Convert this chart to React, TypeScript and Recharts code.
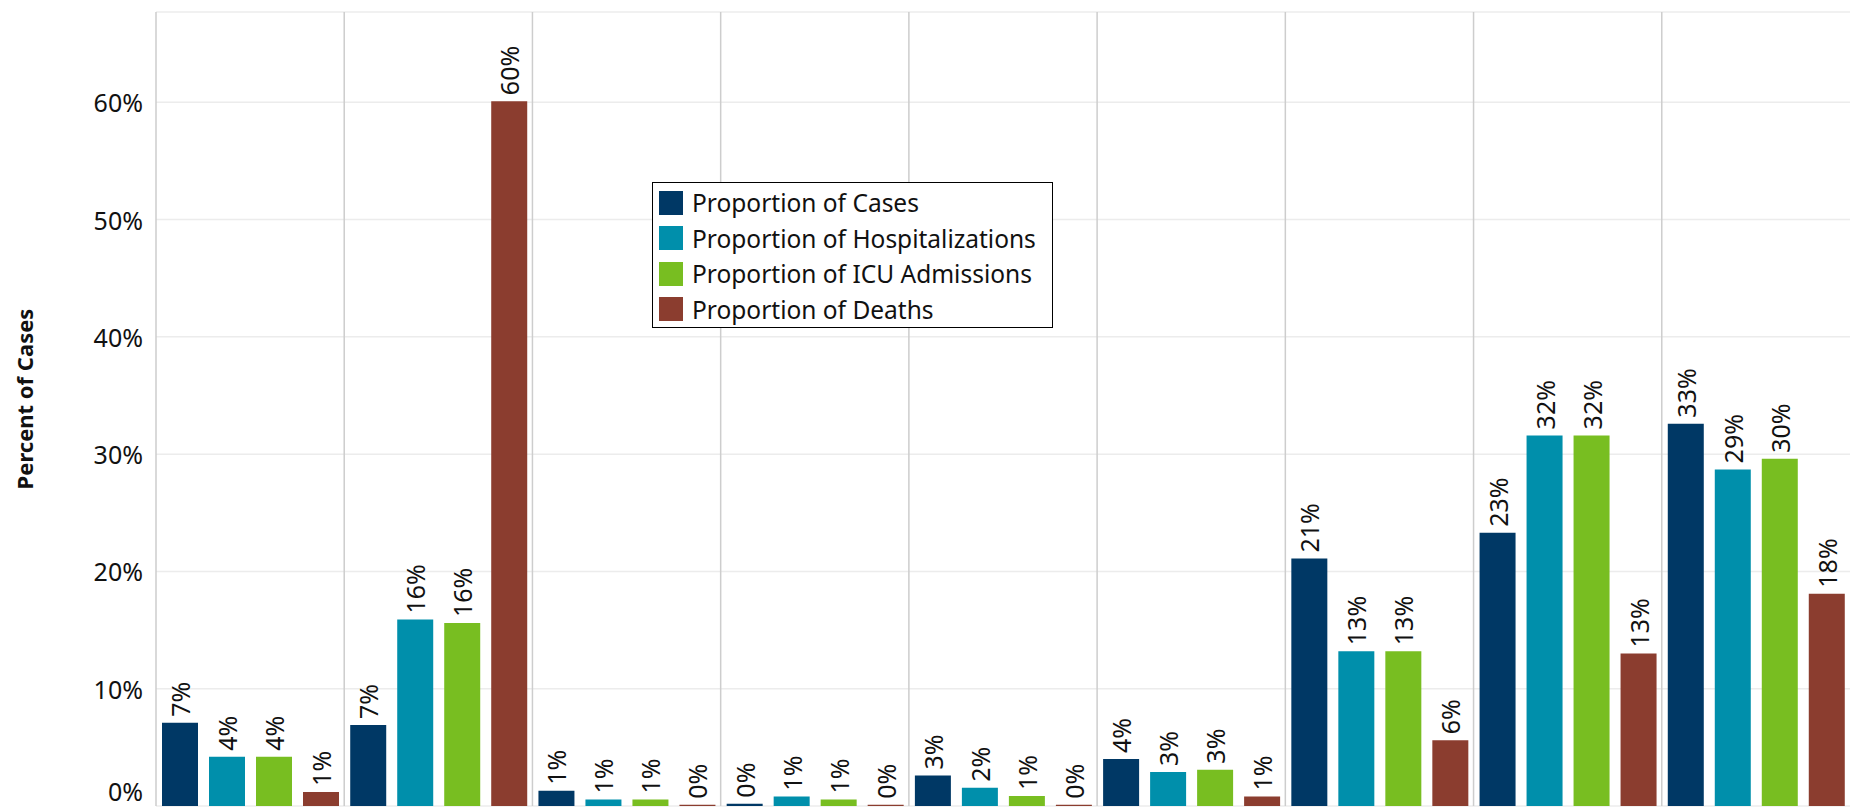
import { Bar, BarChart, CartesianGrid, LabelList, XAxis, YAxis } from "recharts";

const groups = ["Group 1", "Group 2", "Group 3", "Group 4", "Group 5", "Group 6", "Group 7", "Group 8", "Group 9"];
const cases = [7.1, 6.9, 1.3, 0.2, 2.6, 4.0, 21.1, 23.3, 32.6];
const hospitalizations = [4.2, 15.9, 0.55, 0.8, 1.55, 2.9, 13.2, 31.6, 28.7];
const icuAdmissions = [4.2, 15.6, 0.55, 0.55, 0.85, 3.1, 13.2, 31.6, 29.6];
const deaths = [1.2, 60.1, 0.1, 0.1, 0.1, 0.8, 5.6, 13.0, 18.1];
const yTicks = [0, 10, 20, 30, 40, 50, 60];

const SERIES = [
  { key: "cases", name: "Proportion of Cases", color: "#003865" },
  { key: "hosp", name: "Proportion of Hospitalizations", color: "#008FAB" },
  { key: "icu", name: "Proportion of ICU Admissions", color: "#78BE21" },
  { key: "deaths", name: "Proportion of Deaths", color: "#8B3D2F" },
];

const rows = groups.map((g, i) => ({
  group: g,
  cases: cases[i],
  hosp: hospitalizations[i],
  icu: icuAdmissions[i],
  deaths: deaths[i],
}));

const FONT = "'Noto Sans', 'Open Sans', sans-serif";

function BarLabel(props: any) {
  const { x, y, width, value } = props;
  const cx = x + width / 2;
  const ty = y - 6;
  return (
    <text
      x={cx}
      y={ty}
      transform={`rotate(-90 ${cx} ${ty})`}
      textAnchor="start"
      dominantBaseline="central"
      fontSize={25}
      fontFamily={FONT}
      fill="#111"
    >
      {Math.round(value)}%
    </text>
  );
}

function YTick(props: any) {
  const { x, y, payload } = props;
  // the 0% label sits a bit higher so it isn't cut at the bottom edge
  const dy = payload.value === 0 ? -15 : 0;
  return (
    <text
      x={x}
      y={y + dy}
      textAnchor="end"
      dominantBaseline="central"
      fontSize={25}
      fontFamily={FONT}
      fill="#111"
    >
      {payload.value}%
    </text>
  );
}

function AxisTitle(props: any) {
  const { viewBox } = props;
  const cy = viewBox.y + viewBox.height / 2 - 10;
  return (
    <text
      x={24}
      y={cy}
      transform={`rotate(-90 24 ${cy})`}
      textAnchor="middle"
      dominantBaseline="central"
      fontSize={22}
      fontWeight="bold"
      fontFamily={FONT}
      fill="#111"
    >
      Percent of Cases
    </text>
  );
}

function LegendBox() {
  return (
    <div
      style={{
        position: "absolute",
        left: 652,
        top: 182,
        border: "1.5px solid #000",
        background: "#fff",
        width: 401,
        height: 146,
        padding: "2px 0 2px 6px",
        boxSizing: "border-box",
        fontFamily: FONT,
        fontSize: 24.5,
        color: "#111",
        whiteSpace: "nowrap",
      }}
    >
      {SERIES.map((s) => (
        <div key={s.key} style={{ display: "flex", alignItems: "center", height: 35.5 }}>
          <span style={{ width: 24, height: 24, background: s.color, marginRight: 9, flex: "none" }} />
          <span>{s.name}</span>
        </div>
      ))}
    </div>
  );
}

export default function App() {
  return (
    <div style={{ position: "absolute", left: 0, top: 0, background: "#fff" }}>
      <BarChart
        width={1850}
        height={807}
        data={rows}
        margin={{ top: 12, right: 0, bottom: 1, left: 0 }}
        barCategoryGap={6}
        barGap={11}
      >
        <CartesianGrid stroke="#ececec" strokeWidth={1.5} vertical={false} />
        <CartesianGrid
          stroke="#cdcdcd"
          strokeWidth={1.5}
          horizontal={false}
          verticalCoordinatesGenerator={({ offset }: any) =>
            groups.map((_, i) => offset.left + (i * offset.width) / groups.length)
          }
        />
        <XAxis dataKey="group" height={0} tick={false} axisLine={false} tickLine={false} />
        <YAxis
          width={156}
          domain={[0, 67.7]}
          ticks={yTicks}
          interval={0}
          axisLine={false}
          tickLine={false}
          tickSize={0}
          tickMargin={13}
          tick={<YTick />}
          label={<AxisTitle />}
        />
        {SERIES.map((s) => (
          <Bar key={s.key} dataKey={s.key} name={s.name} fill={s.color} isAnimationActive={false}>
            <LabelList dataKey={s.key} content={<BarLabel />} />
          </Bar>
        ))}
      </BarChart>
      <LegendBox />
    </div>
  );
}
